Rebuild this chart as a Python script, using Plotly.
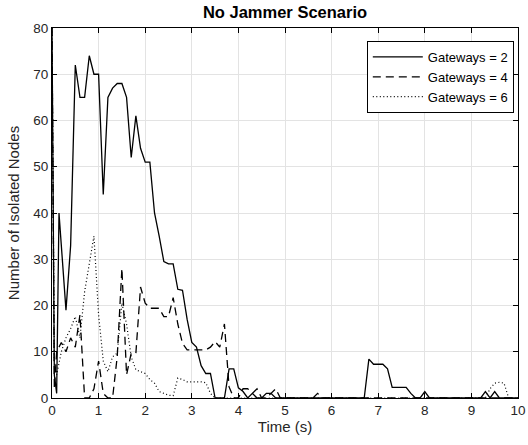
import plotly.graph_objects as go

# Gateways = 2 (solid)
t_g2 = [0, 0.05, 0.1, 0.15, 0.3, 0.4, 0.5, 0.6, 0.7, 0.8, 0.9, 1.0, 1.1, 1.2, 1.3, 1.4, 1.5,
        1.6, 1.7, 1.8, 1.9, 2.0, 2.1, 2.2, 2.3, 2.4, 2.5, 2.6, 2.7, 2.8, 2.9, 3.0, 3.1, 3.2,
        3.3, 3.4, 3.5, 3.6, 3.7, 3.8, 3.9, 4.0, 4.1, 4.2, 4.3, 4.4, 4.5, 4.6, 4.7, 4.8, 5.0,
        6.0, 6.7, 6.8, 6.9, 7.0, 7.1, 7.2, 7.3, 7.4, 7.5, 7.6, 7.7, 7.8, 7.9, 8.0, 8.1, 9.0,
        9.2, 9.3, 9.4, 9.5, 9.6, 10.0]
v_g2 = [80, 5, 1, 40, 19, 33, 72, 65, 65, 74, 70, 70, 44, 65, 67, 68, 68,
        65, 52, 61, 54, 51, 51, 40, 35, 29.5, 29, 29, 23.5, 23.3, 17, 12, 11, 7,
        5.3, 5.3, 0, 0, 0, 6.3, 6.3, 2.2, 1.4, 0, 1, 0, 0, 1, 1, 0, 0,
        0, 0, 8.4, 7.3, 7.3, 7.3, 6.3, 2.3, 2.3, 2.3, 2.3, 1, 0, 0, 1.4, 0, 0,
        0, 1.4, 0, 1.4, 0, 0]

# Gateways = 4 (dashed)
t_g4 = [0, 0.05, 0.1, 0.2, 0.3, 0.4, 0.5, 0.6, 0.7, 0.8, 0.9, 1.0, 1.1, 1.2, 1.3, 1.4, 1.5,
        1.6, 1.7, 1.8, 1.9, 2.0, 2.1, 2.2, 2.3, 2.4, 2.5, 2.6, 2.7, 2.8, 2.9, 3.0, 3.1, 3.2,
        3.3, 3.4, 3.5, 3.6, 3.7, 3.8, 3.9, 4.0, 4.1, 4.2, 4.3, 4.4, 4.5, 4.6, 4.7, 4.8, 4.9,
        5.0, 5.6, 5.7, 5.8, 6.0, 10.0]
v_g4 = [80, 2, 10, 12, 10, 13, 11, 18, 0, 0, 2, 8, 1, 0, 0, 9, 28,
        5, 9.7, 9.7, 24, 20.5, 19.4, 19.4, 19.4, 17.6, 17.6, 21.7, 16, 11.8, 10.4, 10.4, 10.4, 10.4,
        10.4, 11, 12.2, 11, 16, 2.4, 0, 0, 2, 2, 1, 2, 0, 0, 1, 2, 0,
        0, 0, 1, 0, 0, 0]

# Gateways = 6 (dotted)
t_g6 = [0, 0.05, 0.1, 0.2, 0.3, 0.4, 0.5, 0.6, 0.7, 0.8, 0.9, 1.0, 1.1, 1.2, 1.3, 1.4, 1.5,
        1.6, 1.7, 1.8, 1.9, 2.0, 2.1, 2.2, 2.3, 2.4, 2.5, 2.6, 2.7, 2.8, 2.9, 3.0, 3.1, 3.2,
        3.3, 3.4, 3.5, 9.3, 9.4, 9.5, 9.6, 9.7, 9.8, 10.0]
v_g6 = [80, 8, 5, 10, 13, 15, 17.6, 13, 23, 29, 35, 18, 8, 5.7, 8.9, 9.7, 20.5,
        16, 8.9, 6.1, 5.7, 5.3, 4, 3.2, 1.4, 1, 0.6, 0.5, 4.3, 4, 3.5, 3.5, 3.5, 3.5,
        3.3, 1, 0, 0, 2, 3.2, 3.4, 3.2, 0, 0]

x_ticks = [0, 1, 2, 3, 4, 5, 6, 7, 8, 9, 10]
y_ticks = [0, 10, 20, 30, 40, 50, 60, 70, 80]

FONT = "Liberation Sans, Arial, Helvetica, sans-serif"

fig = go.Figure()
fig.add_trace(go.Scatter(x=t_g2, y=v_g2, mode="lines", name="Gateways = 2",
                         line=dict(color="black", width=1.3)))
fig.add_trace(go.Scatter(x=t_g4, y=v_g4, mode="lines", name="Gateways = 4",
                         line=dict(color="black", width=1.3, dash="8px,5px")))
fig.add_trace(go.Scatter(x=t_g6, y=v_g6, mode="lines", name="Gateways = 6",
                         line=dict(color="black", width=1.2, dash="1px,2.5px")))

axis_common = dict(
    showline=True, linecolor="black", linewidth=1, mirror="ticks",
    ticks="inside", ticklen=5, tickcolor="black",
    showgrid=True, gridcolor="#e3e3e3", gridwidth=1,
    zeroline=False, automargin=False,
    tickfont=dict(family=FONT, size=13.5, color="#262626"),
)

fig.update_layout(
    width=528, height=445,
    margin=dict(l=52, r=10, t=28, b=47),
    paper_bgcolor="white", plot_bgcolor="white",
    font=dict(family=FONT, size=13.5, color="#262626"),
    title=dict(text="<b>No Jammer Scenario</b>", x=0.5, xref="paper", xanchor="center",
               y=0.973, yref="container", yanchor="middle",
               font=dict(family=FONT, size=16.5, color="black")),
    xaxis=dict(range=[0, 10], tickvals=x_ticks,
               title=dict(text="Time (s)", font=dict(family=FONT, size=15, color="#262626"), standoff=2),
               **axis_common),
    yaxis=dict(range=[0, 80], tickvals=y_ticks,
               title=dict(text="Number of Isolated Nodes", font=dict(family=FONT, size=15, color="#262626"), standoff=10),
               **axis_common),
    legend=dict(x=0.991, y=0.965, xanchor="right", yanchor="top",
                bgcolor="white", bordercolor="black", borderwidth=1,
                font=dict(family=FONT, size=13, color="black"),
                tracegroupgap=0, itemwidth=50),
    showlegend=True,
)

fig.write_html("out.html", config={"displayModeBar": False},
               post_script="document.body.style.margin='0';")
